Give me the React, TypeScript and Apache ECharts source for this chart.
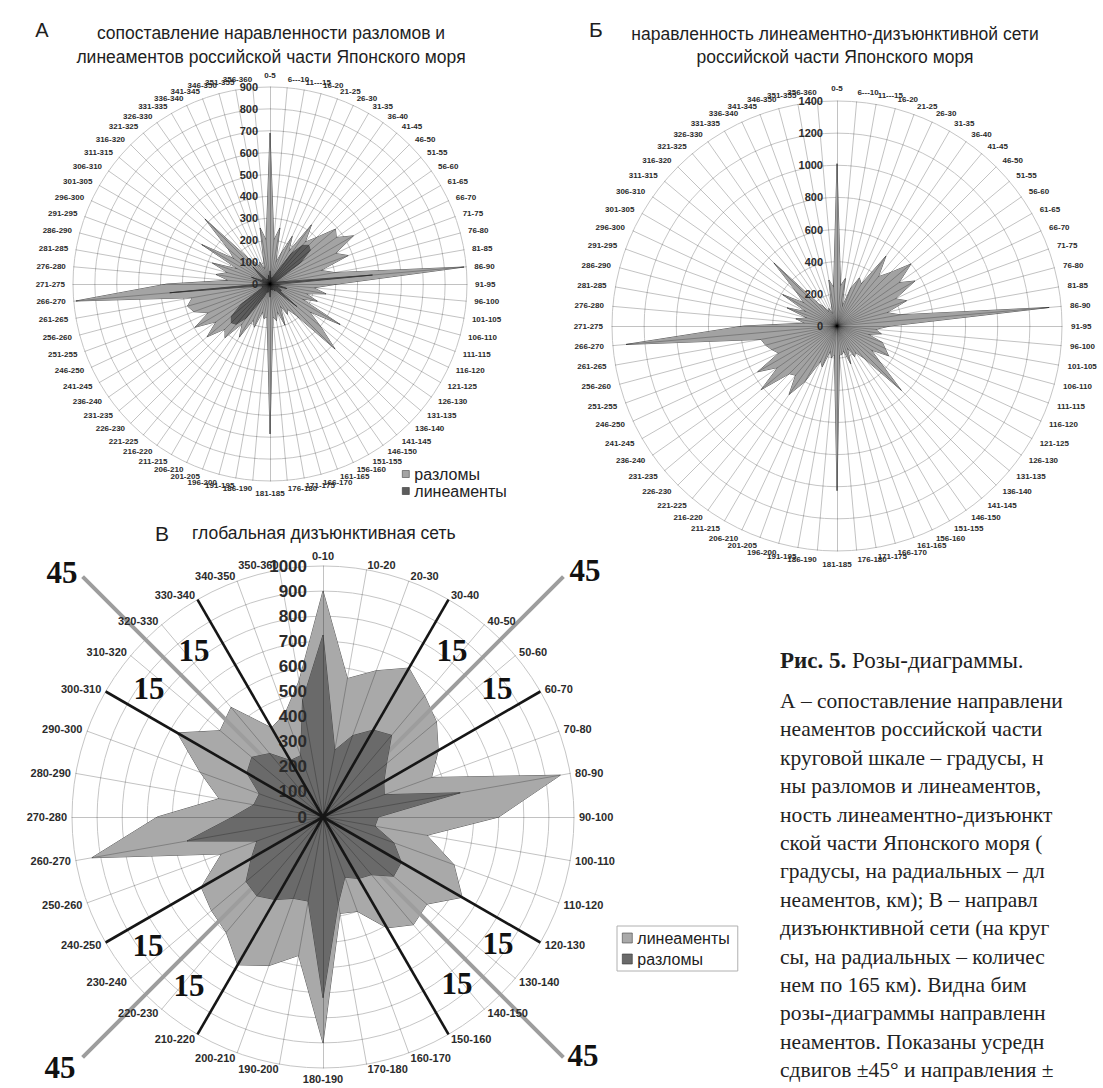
import React, { useEffect, useRef } from "react";
import * as echarts from "echarts";

const SANS = "'Liberation Sans', Arial, sans-serif";
const SERIF = "'Liberation Serif', 'Times New Roman', serif";

// ---------- categories ----------
const sectors5 = [
  "0-5", "6---10", "11---15", "16-20", "21-25", "26-30", "31-35", "36-40", "41-45", "46-50",
  "51-55", "56-60", "61-65", "66-70", "71-75", "76-80", "81-85", "86-90", "91-95", "96-100",
  "101-105", "106-110", "111-115", "116-120", "121-125", "126-130", "131-135", "136-140", "141-145", "146-150",
  "151-155", "156-160", "161-165", "166-170", "171-175", "176-180", "181-185", "186-190", "191-195", "196-200",
  "201-205", "206-210", "211-215", "216-220", "221-225", "226-230", "231-235", "236-240", "241-245", "246-250",
  "251-255", "256-260", "261-265", "266-270", "271-275", "276-280", "281-285", "286-290", "291-295", "296-300",
  "301-305", "306-310", "311-315", "316-320", "321-325", "326-330", "331-335", "336-340", "341-345", "346-350",
  "351-355", "356-360",
];

const sectors10 = [
  "0-10", "10-20", "20-30", "30-40", "40-50", "50-60", "60-70", "70-80", "80-90", "90-100",
  "100-110", "110-120", "120-130", "130-140", "140-150", "150-160", "160-170", "170-180", "180-190", "190-200",
  "200-210", "210-220", "220-230", "230-240", "240-250", "250-260", "260-270", "270-280", "280-290", "290-300",
  "300-310", "310-320", "320-330", "330-340", "340-350", "350-360",
];

// ---------- chart А : faults vs lineaments ----------
const faultsA = [
  690, 200, 260, 100, 150, 240, 170, 330, 250, 300,
  390, 370, 440, 330, 380, 240, 300, 890, 310, 200,
  260, 170, 230, 160, 370, 220, 300, 420, 190, 140,
  160, 110, 200, 130, 170, 150, 685, 150, 160, 130,
  210, 180, 280, 220, 320, 290, 375, 300, 395, 310,
  370, 390, 360, 890, 470, 190, 250, 200, 280, 160,
  360, 200, 250, 420, 150, 120, 90, 110, 70, 110,
  260, 200,
];
const lineamentsA = [
  60, 25, 30, 20, 30, 40, 70, 170, 230, 250,
  240, 170, 60, 30, 25, 30, 60, 470, 50, 30,
  40, 80, 30, 40, 60, 50, 160, 60, 30, 40,
  25, 20, 30, 20, 25, 20, 60, 25, 30, 40,
  30, 60, 100, 190, 240, 250, 230, 160, 60, 30,
  40, 30, 50, 460, 40, 30, 25, 40, 90, 30,
  40, 30, 60, 110, 30, 25, 20, 25, 20, 25,
  40, 20,
];

// ---------- chart Б : lineament-disjunctive network ----------
const networkB = [
  1010, 250, 300, 120, 250, 330, 300, 530, 400, 470,
  600, 470, 560, 400, 460, 320, 400, 1325, 330, 240,
  280, 200, 300, 330, 370, 260, 350, 566, 260, 200,
  220, 150, 250, 160, 180, 180, 1025, 180, 200, 160,
  270, 240, 400, 520, 400, 420, 615, 450, 570, 400,
  430, 460, 480, 1317, 580, 200, 260, 190, 330, 210,
  390, 250, 330, 555, 180, 150, 100, 120, 80, 130,
  290, 240,
];

// ---------- chart В : global disjunctive network ----------
const lineamentsV = [
  900, 560, 620, 685, 630, 590, 530, 460, 960, 700,
  420, 555, 640, 540, 560, 510, 400, 390, 900, 560,
  630, 680, 600, 580, 560, 430, 935, 660, 420, 520,
  670, 535, 570, 410, 440, 550,
];
const faultsV = [
  725, 270, 345, 400, 425, 330, 280, 260, 555, 220,
  210, 300, 360, 367, 300, 283, 255, 350, 720, 340,
  345, 380, 410, 400, 330, 280, 550, 360, 280, 270,
  350, 370, 330, 260, 260, 470,
];

// overlay directions in chart В (degrees clockwise from north)
const shearDirs = [45, 135, 225, 315];
const sideDirs = [30, 60, 120, 150, 210, 240, 300, 330];

const captionLines = [
  "А – сопоставление направлени",
  "неаментов российской части",
  "круговой шкале – градусы, н",
  "ны разломов и линеаментов,",
  "ность линеаментно-дизъюнкт",
  "ской части Японского моря (",
  "градусы, на радиальных – дл",
  "неаментов, км); В – направл",
  "дизъюнктивной сети (на круг",
  "сы, на радиальных – количес",
  "нем по 165 км). Видна бим",
  "розы-диаграммы направленн",
  "неаментов. Показаны усредн",
  "сдвигов ±45° и направления ±",
];

// ---------- layout ----------
const A_C = [270, 284];
const A_R = 197;
const B_C = [837, 326];
const B_R = 225;
const V_C = [323, 817];
const V_R = 251;

// ECharts radar runs counter-clockwise; reorder to get a clockwise compass rose
const cw = <T,>(a: T[]): T[] => [a[0], ...a.slice(1).reverse()];

function radarPair(center: number[], radius: number, cats: string[], max: number, split: number,
  nameSize: number, labelSize: number, nameGap: number, labelMargin: number) {
  const base = cw(cats).map((n) => ({ name: n, max, min: 0 }));
  const rings = {
    center, radius, startAngle: 90, shape: "circle", splitNumber: split, z: 0,
    indicator: base.map((i) => ({ ...i })),
    axisName: { show: false },
    axisLine: { show: false },
    axisTick: { show: false },
    axisLabel: { show: false },
    splitLine: { lineStyle: { color: "#c6c6c6", width: 1 } },
    splitArea: { show: false },
  };
  const spokes = {
    center, radius, startAngle: 90, shape: "circle", splitNumber: split, z: 4,
    indicator: base.map((i, k) =>
      k === 0
        ? {
            ...i,
            axisLabel: {
              show: true, color: "#2b2b2b", fontSize: labelSize, fontWeight: "bold",
              fontFamily: SANS, margin: labelMargin, formatter: (v: number) => String(v),
            },
          }
        : { ...i }
    ),
    axisName: { color: "#2b2b2b", fontSize: nameSize, fontWeight: "bold", fontFamily: SANS },
    nameGap,
    axisLine: { lineStyle: { color: "rgba(0,0,0,0.24)", width: 1 } },
    axisTick: { show: false },
    axisLabel: { show: false },
    splitLine: { show: false },
    splitArea: { show: false },
  };
  return [rings, spokes];
}

function radarSeries(radarIndex: number, name: string, values: number[], fill: string, z: number) {
  return {
    type: "radar", radarIndex, name, z, symbol: "none", silent: true,
    lineStyle: { color: "#333", width: 0.8 },
    areaStyle: { color: fill, opacity: 1 },
    itemStyle: { color: fill },
    data: [{ name, value: cw(values) }],
  };
}

function txt(x: number, y: number, text: string, size: number, opts: any = {}) {
  return {
    type: "text", x, y, z: 6, silent: true,
    style: {
      text, fontSize: size, fontFamily: SANS, fill: "#1e1e1e",
      align: "center", verticalAlign: "middle", ...opts,
    },
  };
}

export default function App() {
  const ref = useRef<HTMLDivElement>(null);
  useEffect(() => {
    if (!ref.current) return;
    const chart = echarts.init(ref.current, undefined, { renderer: "svg" });

    const rad = (d: number) => (d * Math.PI) / 180;
    const graphics: any[] = [];

    // titles
    graphics.push(txt(42, 30, "А", 20));
    graphics.push(txt(271, 33, "сопоставление наравленности разломов и", 17.5));
    graphics.push(txt(271, 57, "линеаментов российской части Японского моря", 17.5));
    graphics.push(txt(596, 29, "Б", 21));
    graphics.push(txt(835, 34, "наравленность линеаментно-дизъюнктивной сети", 17.5));
    graphics.push(txt(835, 57, "российской части Японского моря", 17.5));
    graphics.push(txt(162, 533, "В", 21));
    graphics.push(txt(192, 533, "глобальная дизъюнктивная сеть", 17.5, { align: "left" }));

    // overlay lines in chart В
    shearDirs.forEach((d) => {
      graphics.push({
        type: "line", z: 2, silent: true,
        shape: {
          x1: V_C[0], y1: V_C[1],
          x2: V_C[0] + 340 * Math.sin(rad(d)), y2: V_C[1] - 340 * Math.cos(rad(d)),
        },
        style: { stroke: "#9d9d9d", lineWidth: 4 },
      });
    });
    sideDirs.forEach((d) => {
      graphics.push({
        type: "line", z: 5, silent: true,
        shape: {
          x1: V_C[0], y1: V_C[1],
          x2: V_C[0] + V_R * Math.sin(rad(d)), y2: V_C[1] - V_R * Math.cos(rad(d)),
        },
        style: { stroke: "#161616", lineWidth: 2.6 },
      });
    });
    const bigNum = { fontFamily: SERIF, fontWeight: "bold", fill: "#111" };
    [[62, 572], [585, 570], [583, 1055], [60, 1067]].forEach(([x, y]) =>
      graphics.push(txt(x, y, "45", 31, bigNum))
    );
    [[452, 650], [497, 688], [498, 943], [457, 983], [194, 650], [149, 688], [148, 945], [189, 985]].forEach(
      ([x, y]) => graphics.push(txt(x, y, "15", 31, bigNum))
    );

    // caption
    graphics.push({
      type: "text", x: 780, y: 660, z: 6, silent: true,
      style: {
        text: "{b|Рис. 5.} Розы-диаграммы.",
        fontSize: 23, fontFamily: SERIF, fill: "#1e1e1e", align: "left", verticalAlign: "middle",
        rich: { b: { fontWeight: "bold", fontSize: 23, fontFamily: SERIF, fill: "#1e1e1e" } },
      },
    });
    captionLines.forEach((line, i) =>
      graphics.push(
        txt(780, 701 + i * 28.4, line, 21.5, { fontFamily: SERIF, align: "left", fill: "#222" })
      )
    );

    const [ra0, ra1] = radarPair(A_C, A_R, sectors5, 900, 9, 8, 11, 8, 12);
    const [rb0, rb1] = radarPair(B_C, B_R, sectors5, 1400, 7, 8, 11, 9, 14);
    const [rv0, rv1] = radarPair(V_C, V_R, sectors10, 1000, 10, 11, 17, 5, 16);

    const legendText = { fontSize: 16, color: "#222", fontFamily: SANS };
    chart.setOption({
      animation: false,
      backgroundColor: "#ffffff",
      radar: [ra0, ra1, rb0, rb1, rv0, rv1],
      legend: [
        {
          left: 402, top: 466, orient: "vertical", icon: "rect", itemWidth: 7, itemHeight: 7,
          itemGap: 1, selectedMode: false, textStyle: legendText, padding: 0,
          data: [
            { name: "разломы", itemStyle: { color: "#a4a4a4", borderColor: "#444", borderWidth: 0.6 } },
            { name: "линеаменты", itemStyle: { color: "#5c5c5c", borderColor: "#333", borderWidth: 0.6 } },
          ],
        },
        {
          left: 617, top: 926, orient: "vertical", icon: "rect", itemWidth: 10, itemHeight: 10,
          itemGap: 5, selectedMode: false, borderColor: "#b0b0b0", borderWidth: 1, padding: [4, 8, 4, 5],
          textStyle: legendText,
          data: [
            { name: "линеаменты", itemStyle: { color: "#a9a9a9", borderColor: "#444", borderWidth: 0.6 } },
            { name: "разломы", itemStyle: { color: "#6a6a6a", borderColor: "#333", borderWidth: 0.6 } },
          ],
        },
      ],
      series: [
        radarSeries(1, "разломы", faultsA, "#a4a4a4", 1),
        radarSeries(1, "линеаменты", lineamentsA, "#5c5c5c", 3),
        radarSeries(3, "линеаментно-дизъюнктивная сеть", networkB, "#a2a2a2", 2),
        radarSeries(5, "линеаменты", lineamentsV, "#a9a9a9", 1),
        radarSeries(5, "разломы", faultsV, "#6a6a6a", 3),
      ],
      graphic: graphics,
    });
    return () => chart.dispose();
  }, []);

  return (
    <div
      ref={ref}
      style={{ position: "fixed", left: 0, top: 0, width: 1103, height: 1088, background: "#fff" }}
    />
  );
}
